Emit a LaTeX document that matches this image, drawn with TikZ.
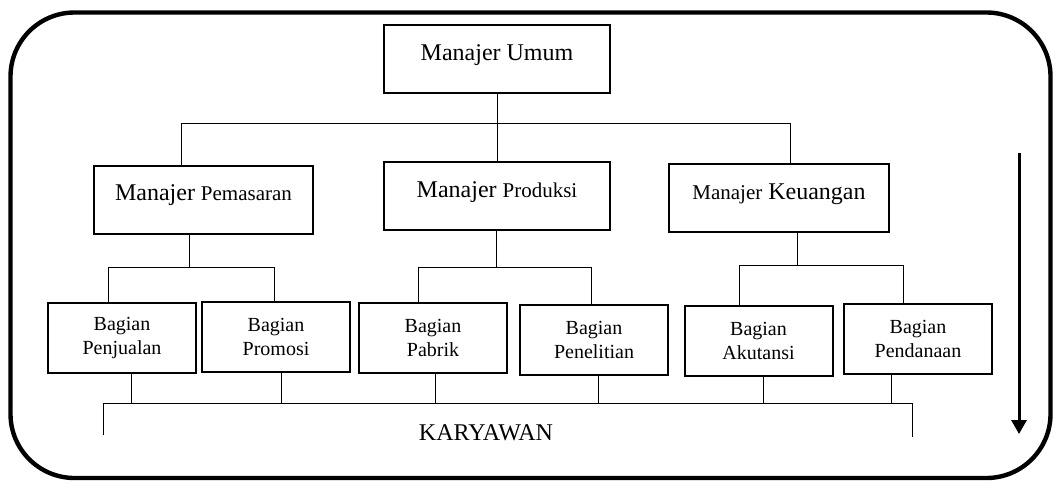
\documentclass[tikz,border=0pt]{standalone}
\usepackage{fontspec}
\setmainfont{Liberation Serif}
\usetikzlibrary{arrows.meta}
\newcommand\kecil[1]{{\fontsize{10.5pt}{12pt}\selectfont #1}}

\begin{document}
\begin{tikzpicture}[x=0.5pt, y=-0.5pt, font=\fontsize{12pt}{14pt}\selectfont,
  mgr/.style={draw, line width=1pt, inner sep=0pt, text height=17.5pt, text depth=16.5pt},
  bag/.style={draw, line width=1pt, align=center, inner sep=0pt, minimum width=74pt, minimum height=35pt, font=\fontsize{10pt}{12pt}\selectfont},
  link/.style={line width=0.5pt}]
\useasboundingbox (0,0) rectangle (1059,483);
\draw[line width=2.2pt, rounded corners=32pt] (10.5,12.5) rectangle (1050.5,478);
% managers
\node[mgr, minimum width=113pt] (umum) at (497,59) {Manajer Umum};
\node[mgr, minimum width=109.5pt] (pemasaran) at (203.5,199.5) {Manajer \kecil{Pemasaran}};
\node[mgr, minimum width=113pt] (produksi) at (497,196) {Manajer \kecil{Produksi}};
\node[mgr, minimum width=110pt] (keuangan) at (779,198) {\kecil{Manajer} Keuangan};
% sections
\foreach \n/\x/\y/\lab in {penjualan/122/338/Penjualan, promosi/276/336.5/Promosi, pabrik/433/337.5/Pabrik, penelitian/594/340/Penelitian, akutansi/758.5/340.5/Akutansi, pendanaan/918/339/Pendanaan}
  \node[bag] (\n) at (\x,\y) {Bagian\\\lab};
\node (kary) at (486,433) {KARYAWAN};
% top level lines
\coordinate (topL) at (181,123);
\coordinate (topR) at (790,123);
\draw[link] (umum.south) -- (produksi.north);
\draw[link] (pemasaran.north -| topL) -- (topL) -- (topR) -- (keuangan.north -| topR);
% second level lines
\foreach \m/\a/\b/\jx/\lx/\rx/\by in {pemasaran/penjualan/promosi/189/108/274/267, produksi/pabrik/penelitian/496/418/591/267, keuangan/akutansi/pendanaan/797/739/903/265}{
  \coordinate (\m-j) at (\jx,\by);
  \coordinate (\m-l) at (\lx,\by);
  \coordinate (\m-r) at (\rx,\by);
  \draw[link] (\m.south -| \m-j) -- (\m-j);
  \draw[link] (\a.north -| \m-l) -- (\m-l) -- (\m-r) -- (\b.north -| \m-r);
}
% bottom line to KARYAWAN
\coordinate (busL) at (103,403);
\coordinate (busR) at (912,403);
\coordinate (busLend) at (103,435);
\coordinate (busRend) at (912,437);
\draw[link] (busLend) -- (busL) -- (busR) -- (busRend);
\foreach \n/\x in {penjualan/131, promosi/281, pabrik/435, penelitian/598, akutansi/763, pendanaan/891}
  \draw[link] (\n.south -| \x,0) -- (busL -| \x,0);
% arrow
\coordinate (arrS) at (1019,153);
\coordinate (arrE) at (1019,434);
\draw[line width=1.5pt, -{Triangle[length=7pt, width=7.5pt]}] (arrS) -- (arrE);
\end{tikzpicture}
\end{document}
